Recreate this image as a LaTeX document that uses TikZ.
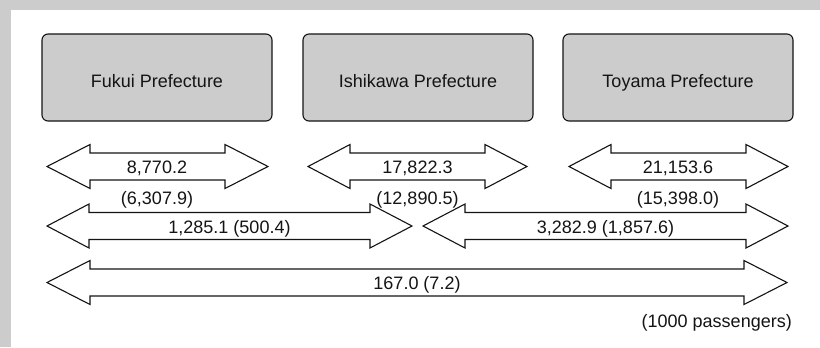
\documentclass[tikz,border=0pt]{standalone}
\usepackage{fontspec}
\setmainfont{Liberation Sans}
\definecolor{bggray}{RGB}{204,204,204}
\definecolor{boxgray}{RGB}{204,204,204}
\definecolor{ink}{RGB}{20,20,20}
\newcommand\dblarrow[5]{%
  % #1 name, #2 left tip x, #3 right tip x, #4 centre y, #5 head length
  \coordinate (#1-l) at (#2,#4);
  \coordinate (#1-r) at (#3,#4);
  \draw[arrowshape] (#1-l) -- ++(#5,-22) -- ++(0,8.5) -- ($(#1-r)+(-#5,-13.5)$) -- ++(0,-8.5) -- (#1-r)
     -- ++(-#5,22) -- ++(0,-8.5) -- ($(#1-l)+(#5,13.5)$) -- ++(0,8.5) -- cycle;
}
\usetikzlibrary{calc}
\begin{document}
\begin{tikzpicture}[x=1bp,y=-1bp,
  prefbox/.style={draw=ink,line width=1.1bp,fill=boxgray,rounded corners=6bp},
  arrowshape/.style={draw=ink,line width=1.1bp,fill=white,line join=miter},
  lbl/.style={font=\fontsize{18bp}{21bp}\selectfont,text=ink,inner sep=0pt,anchor=base}]
\useasboundingbox (0,0) rectangle (820,347);
\fill[bggray] (0,0) rectangle (820,347);
\fill[white] (11,10) rectangle (820,347);
% prefecture boxes
\draw[prefbox] (42,34) rectangle (272,121);
\node[lbl] (fukui) at (157,87.5) {Fukui Prefecture};
\draw[prefbox] (303,34) rectangle (533,121);
\node[lbl] (ishikawa) at (418,87.5) {Ishikawa Prefecture};
\draw[prefbox] (563,34) rectangle (793,121);
\node[lbl] (toyama) at (678,87.5) {Toyama Prefecture};
% row 1
\dblarrow{a1}{47}{268}{166.5}{43}
\dblarrow{a2}{308}{527}{166.5}{42}
\dblarrow{a3}{569}{788}{166.5}{42}
\node[lbl] (t1) at (157,173) {8,770.2};
\node[lbl] (t2) at (417.5,173) {17,822.3};
\node[lbl] (t3) at (678,173) {21,153.6};
\node[lbl] (p1) at (157,204) {(6,307.9)};
\node[lbl] (p2) at (417.5,204) {(12,890.5)};
\node[lbl] (p3) at (678,204) {(15,398.0)};
% row 2
\dblarrow{b1}{47}{412}{226}{42}
\dblarrow{b2}{423}{788}{226}{42}
\node[lbl] (t4) at (229.5,233) {1,285.1 (500.4)};
\node[lbl] (t5) at (605.5,233) {3,282.9 (1,857.6)};
% row 3
\dblarrow{c1}{47}{787}{282.5}{43}
\node[lbl] (t6) at (417,289) {167.0 (7.2)};
\node[lbl,anchor=base east] (unit) at (792,327) {(1000 passengers)};
\end{tikzpicture}
\end{document}
